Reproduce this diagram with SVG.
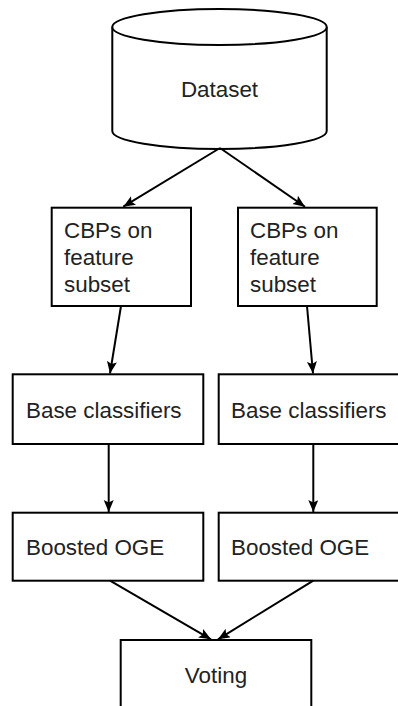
<svg xmlns="http://www.w3.org/2000/svg" width="398" height="706" viewBox="0 0 398 706">
<defs>
<style>
.box{fill:#fff;stroke:#000;stroke-width:2}
.lbl{font-family:"Liberation Sans",Arial,sans-serif;font-size:22.4px;fill:#222}
.edge{fill:none;stroke:#000;stroke-width:2}
</style>
<marker id="ah" markerUnits="userSpaceOnUse" markerWidth="14" markerHeight="12" refX="12" refY="5" orient="auto">
<path d="M0,0 L12,5 L0,10 L2.5,5 Z" fill="#000"/>
</marker>
</defs>
<rect width="398" height="706" fill="#fff"/>
<g id="dataset">
<path class="box" d="M112.3,27 L112.3,131 A107.2,18 0 0 0 326.7,131 L326.7,27 A107.2,18 0 0 0 112.3,27 Z"/>
<path class="box" fill="none" d="M112.3,27 A107.2,18 0 0 0 326.7,27"/>
<text class="lbl" x="219.5" y="97" text-anchor="middle">Dataset</text>
</g>
<g id="cbp1">
<rect class="box" x="51.7" y="207.7" width="139.3" height="98.3"/>
<text class="lbl" x="64" y="238.3">CBPs on</text>
<text class="lbl" x="64" y="265">feature</text>
<text class="lbl" x="64" y="291.7">subset</text>
</g>
<g id="cbp2">
<rect class="box" x="238" y="207.7" width="138.7" height="98.3"/>
<text class="lbl" x="250" y="238.3">CBPs on</text>
<text class="lbl" x="250" y="265">feature</text>
<text class="lbl" x="250" y="291.7">subset</text>
</g>
<g id="base1">
<rect class="box" x="12.7" y="374.3" width="190.6" height="69.7"/>
<text class="lbl" x="26" y="417.7">Base classifiers</text>
</g>
<g id="base2">
<rect class="box" x="218.7" y="374.3" width="190" height="69.7"/>
<text class="lbl" x="231" y="417.7">Base classifiers</text>
</g>
<g id="oge1">
<rect class="box" x="12.7" y="512.7" width="190.6" height="68"/>
<text class="lbl" x="26" y="555">Boosted OGE</text>
</g>
<g id="oge2">
<rect class="box" x="218.7" y="512.7" width="190" height="68"/>
<text class="lbl" x="231" y="555">Boosted OGE</text>
</g>
<g id="voting">
<rect class="box" x="120.7" y="640" width="190.6" height="80"/>
<text class="lbl" x="216" y="683.3" text-anchor="middle">Voting</text>
</g>
<g id="connectors">
<line class="edge" x1="220" y1="148" x2="123.3" y2="206.7" marker-end="url(#ah)"/>
<line class="edge" x1="220" y1="148" x2="305" y2="206.7" marker-end="url(#ah)"/>
<line class="edge" x1="121" y1="306" x2="110" y2="373.5" marker-end="url(#ah)"/>
<line class="edge" x1="307" y1="306" x2="313" y2="373.5" marker-end="url(#ah)"/>
<line class="edge" x1="108.7" y1="444" x2="108.7" y2="512" marker-end="url(#ah)"/>
<line class="edge" x1="313.3" y1="444" x2="313.3" y2="512" marker-end="url(#ah)"/>
<line class="edge" x1="110" y1="580.7" x2="211" y2="639.3" marker-end="url(#ah)"/>
<line class="edge" x1="313.3" y1="580.7" x2="218" y2="639.3" marker-end="url(#ah)"/>
</g>
</svg>
